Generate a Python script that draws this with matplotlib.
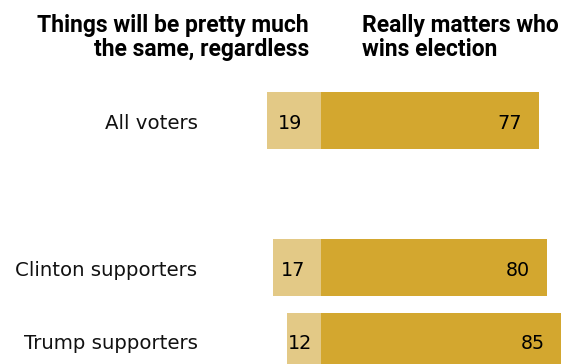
import matplotlib
matplotlib.use("Agg")
import matplotlib.pyplot as plt

# Survey shares (%) by group
groups = ["All voters", "Clinton supporters", "Trump supporters"]
group_pos = [0, 2, 3]
same_regardless = [19, 17, 12]
matters_who_wins = [77, 80, 85]

header_left = ["Things will be pretty much", "the same, regardless"]
header_right = ["Really matters who", "wins election"]

light_gold = "#E3C986"
dark_gold = "#D3A72F"

fig = plt.figure(figsize=(5.72, 3.64), dpi=100)
ax = fig.add_axes([0, 0, 1, 1])
ax.set_xlim(-113.3, 88.8)
ax.set_ylim(3.31, -1.642)
ax.axis("off")

bar_h = 0.77
ax.barh(group_pos, [-v for v in same_regardless], height=bar_h, color=light_gold, linewidth=0)
ax.barh(group_pos, matters_who_wins, height=bar_h, color=dark_gold, linewidth=0)

base_off = 0.11
for y, name, a, b in zip(group_pos, groups, same_regardless, matters_who_wins):
    ax.text(-43.5, y + base_off, name, ha="right", va="baseline", fontsize=14.2,
            family="DejaVu Sans", color="#111111")
    ax.text(-a / 2 - 1.4, y + base_off, str(a), ha="center", va="baseline",
            fontsize=13.8, family="DejaVu Sans", color="black")
    ax.text(b - 6, y + base_off, str(b), ha="right", va="baseline",
            fontsize=13.8, family="DejaVu Sans", color="black")

head_kw = dict(va="baseline", fontsize=16.5, fontweight="bold", family="Roboto",
               color="black")
line_y = [-1.207, -0.880]
for ly, txt in zip(line_y, header_left):
    ax.text(-4.1, ly, txt, ha="right", **head_kw)
for ly, txt in zip(line_y, header_right):
    ax.text(14.6, ly, txt, ha="left", **head_kw)

fig.savefig("out.png", dpi=100)
